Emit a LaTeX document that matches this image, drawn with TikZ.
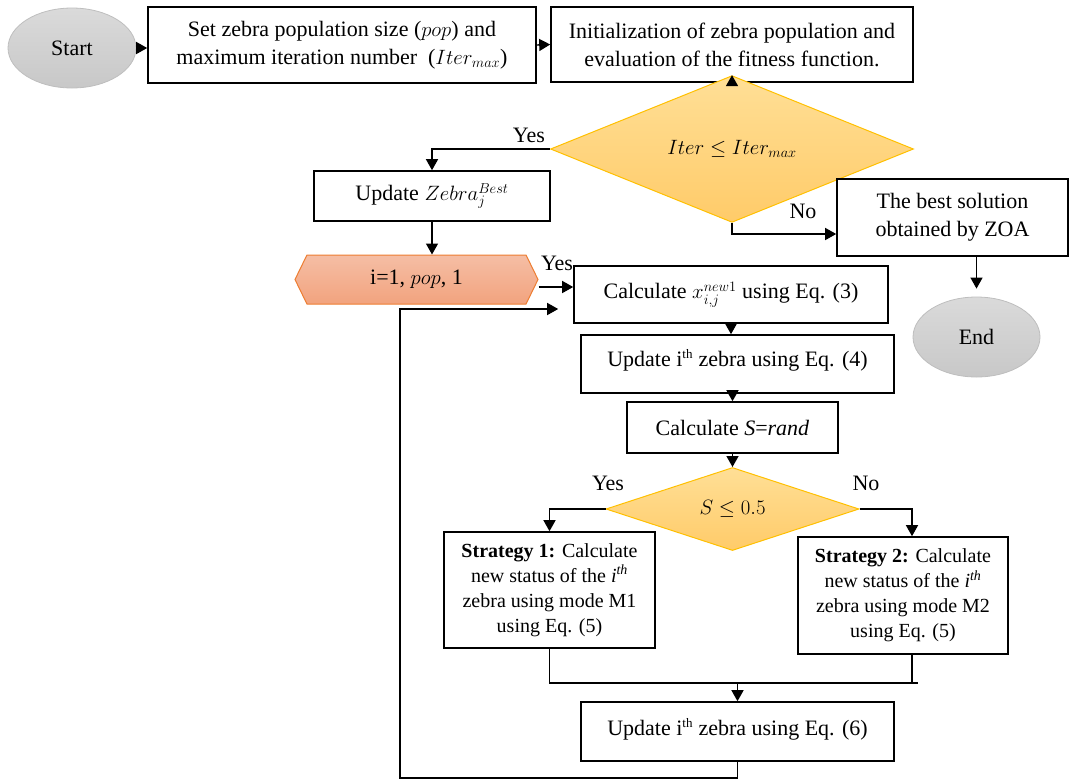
\documentclass[tikz,border=0pt]{standalone}
\usepackage{fontspec}
\setmainfont{Liberation Serif}
\usetikzlibrary{shapes.geometric,shapes.symbols,arrows.meta,calc}
\definecolor{dtop}{RGB}{255,223,150}
\definecolor{dbot}{RGB}{255,203,105}
\definecolor{dline}{RGB}{255,192,0}
\definecolor{htop}{RGB}{245,190,165}
\definecolor{hbot}{RGB}{242,163,126}
\definecolor{hline}{RGB}{237,125,49}
\definecolor{etop}{RGB}{218,218,218}
\definecolor{ebot}{RGB}{200,200,200}
\definecolor{eline}{RGB}{190,190,190}
\newcommand{\thsup}{\textsuperscript{\fontsize{13}{13}\selectfont th}}
\begin{document}
\begin{tikzpicture}[x=1pt,y=-1pt,
  font=\fontsize{22}{28}\selectfont,
  pbox/.style={draw, line width=1.6pt, inner sep=0pt, align=center},
  term/.style={ellipse, draw=eline, line width=0.8pt, top color=etop, bottom color=ebot, inner sep=0pt, minimum width=128pt, minimum height=80pt},
  dec/.style={diamond, draw=dline, line width=1pt, top color=dtop, bottom color=dbot, inner sep=0pt},
  hexa/.style={signal, signal to=east and west, signal pointer angle=128, draw=hline, line width=1pt, top color=htop, bottom color=hbot, inner sep=0pt},
  arr/.style={line width=1.4pt, -{Triangle[width=12pt,length=11pt]}},
  ln/.style={line width=1.4pt},
  lbl/.style={inner sep=0pt},
  sfont/.style={font=\fontsize{20}{25}\selectfont}
]
\useasboundingbox (0,0) rectangle (1071,780);

% nodes
\node[term] (start) at (72,48) {Start};
\node[pbox, minimum width=388pt, minimum height=76pt] (b1) at (342,45)
  {Set zebra population size ($pop$) and\\maximum iteration number~ ($Iter_{max}$)};
\node[pbox, minimum width=362pt, minimum height=75pt] (b2) at (732,44.5)
  {Initialization of zebra population and\\evaluation of the fitness function.};
\node[dec, minimum width=363pt, minimum height=104pt] (d1) at (732,149) {$Iter \le Iter_{max}$};
\node[pbox, minimum width=236pt, minimum height=50pt] (upd) at (432,196) {Update $Zebra_j^{Best}$};
\node[pbox, minimum width=231pt, minimum height=77pt] (best) at (952.5,217.5)
  {The best solution\\obtained by ZOA};
\node[term, minimum width=127pt] (end) at (976.5,337) {End};
\node[hexa, minimum width=243pt, minimum height=49pt] (hex) at (416.5,279.5) {i=1, $pop$, 1};
\node[pbox, minimum width=314pt, minimum height=57pt] (calc) at (731,294.5)
  {Calculate $x_{i,j}^{new1}$ using Eq. (3)};
\node[pbox, minimum width=313pt, minimum height=58pt] (upd4) at (737.5,364)
  {\raisebox{12pt}{Update i\thsup{} zebra using Eq. (4)}};
\node[pbox, minimum width=211pt, minimum height=51pt] (srand) at (732.5,427.5)
  {Calculate \textit{S}=\textit{rand}};
\node[dec, minimum width=253pt, minimum height=78pt] (d2) at (732.5,509) {$S \le 0.5$};
\node[pbox, sfont, minimum width=211pt, minimum height=116pt] (s1) at (549.5,590)
  {\textbf{Strategy 1:} Calculate\\new status of the \textit{i\textsuperscript{th}}\\zebra using mode M1\\using Eq. (5)};
\node[pbox, sfont, minimum width=210pt, minimum height=117pt] (s2) at (903,595.5)
  {\textbf{Strategy 2:} Calculate\\new status of the \textit{i\textsuperscript{th}}\\zebra using mode M2\\using Eq. (5)};
\node[pbox, minimum width=313pt, minimum height=59pt] (upd6) at (737.5,731.5)
  {\raisebox{9pt}{Update i\thsup{} zebra using Eq. (6)}};

% labels
\node[lbl] (y1) at (529,135) {Yes};
\node[lbl] (n1) at (803,211) {No};
\node[lbl] (y2) at (557,263) {Yes};
\node[lbl] (y3) at (608,483) {Yes};
\node[lbl] (n3) at (866,483) {No};

% connectors
\draw[arr] (start.east) -- (start.east -| b1.west);
\draw[arr] (b1.east) -- (b2.west);
\draw[arr] (b2.south) -- (d1.north);
\draw[arr] (d1.west) -| (upd.north);
\draw[arr] (d1.south) |- ([yshift=-16.5pt]best.west);
\draw[arr, shorten >=8pt] (best.south -| end.north) -- (end.north);
\draw[arr] (upd.south) -- (upd.south |- hex.north);
\draw[arr] ([yshift=-7.5pt]hex.east) -- ([yshift=-7.5pt]hex.east -| calc.west);
\draw[arr] (calc.south) -- (calc.south |- upd4.north);
\draw[arr] (srand.north |- upd4.south) -- (srand.north);
\draw[arr] (srand.south) -- (d2.north);
\draw[arr] (d2.west) -| (s1.north);
\draw[arr] (d2.east) -| ([xshift=9pt]s2.north);
\coordinate (jr) at (918,683);
\coordinate (jm) at (upd6.north |- jr);
\draw[ln] (s1.south) |- (jr);
\draw[ln] ([xshift=9pt]s2.south) -- ([xshift=9pt]s2.south |- jr);
\draw[arr] (jm) -- (upd6.north);
\coordinate (lb) at (400,778);
\draw[arr, shorten >=15pt] (upd6.south) |- (lb) |- ([yshift=-14.5pt]calc.west);
\end{tikzpicture}
\end{document}
